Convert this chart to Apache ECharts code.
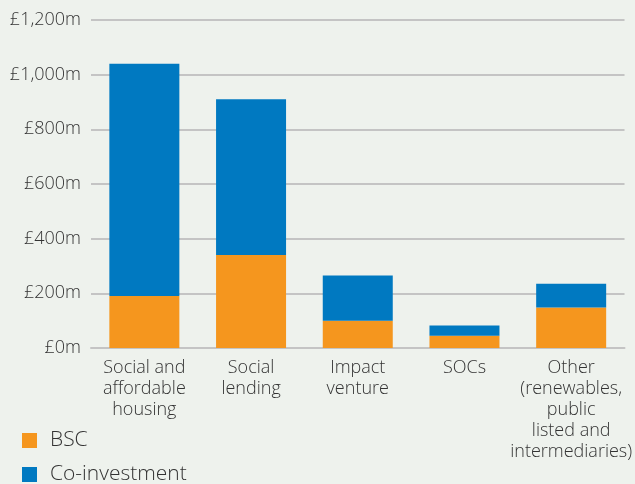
<!DOCTYPE html>
<html>
<head>
<meta charset="utf-8">
<script src="https://cdn.jsdelivr.net/npm/echarts@6/dist/echarts.min.js"></script>
<style>
html,body{margin:0;padding:0;background:#eef2ed;}
#c{width:635px;height:484px;}
</style>
</head>
<body>
<div id="c"></div>
<script>
const categories = ['Social and\naffordable\nhousing', 'Social\nlending', 'Impact\nventure', 'SOCs', 'Other\n(renewables,\npublic\nlisted and\nintermediaries)'];
const bsc = [190, 340, 100, 45, 148];
const coInvestment = [850, 570, 165, 37, 87];
const yTicks = { min: 0, max: 1200, interval: 200 };
const seriesNames = ['BSC', 'Co-investment'];

const chart = echarts.init(document.getElementById('c'));
const font = '"Open Sans", sans-serif';
const legendBase = {
  orient: 'vertical', left: 22, padding: 0,
  itemWidth: 15, itemHeight: 15,
  icon: 'rect',
  textStyle: { fontFamily: font, fontSize: 21, color: '#333', fontWeight: 300, padding: [0,0,0,8] }
};
chart.setOption({
  backgroundColor: '#eef2ed',
  animation: false,
  textStyle: { fontFamily: font },
  grid: { left: 91, right: 9, top: 20, bottom: 136 },
  legend: [
    Object.assign({}, legendBase, { top: 430, data: [seriesNames[0]] }),
    Object.assign({}, legendBase, { top: 464, data: [seriesNames[1]] })
  ],
  xAxis: {
    type: 'category', data: categories,
    axisLine: { show: true, lineStyle: { color: '#c4c4c4', width: 2 } },
    axisTick: { show: false },
    axisLabel: { interval: 0, color: '#333', fontSize: 18, lineHeight: 21, fontFamily: font, fontWeight: 300, margin: 9 }
  },
  yAxis: {
    type: 'value', min: yTicks.min, max: yTicks.max, interval: yTicks.interval,
    axisLine: { show: false }, axisTick: { show: false },
    splitLine: { lineStyle: { color: '#c4c4c4', width: 2 } },
    axisLabel: {
      color: '#333', fontSize: 18, fontFamily: font, fontWeight: 300, margin: 10,
      formatter: v => '£' + v.toLocaleString('en-GB') + 'm'
    }
  },
  series: [
    { name: seriesNames[0], type: 'bar', stack: 'a', data: bsc, barWidth: 70, itemStyle: { color: '#f5961e' } },
    { name: seriesNames[1], type: 'bar', stack: 'a', data: coInvestment, barWidth: 70, itemStyle: { color: '#0079c1' } }
  ]
});
</script>
</body>
</html>
